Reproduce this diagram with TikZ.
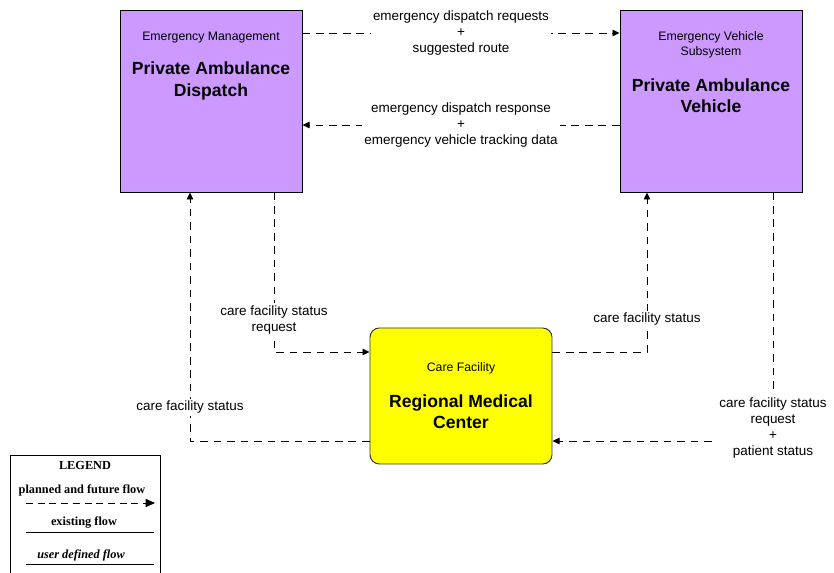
\documentclass[tikz,border=0pt]{standalone}
\usepackage{fontspec}
\setmainfont{Liberation Sans}
\newfontfamily\legendfont{Liberation Serif}
\usetikzlibrary{positioning, arrows.meta}
\definecolor{subsyspurple}{HTML}{CC99FF}
\definecolor{facilityyellow}{HTML}{FFFF00}

\tikzset{
  sysbox/.style={draw=black, line width=0.8pt, fill=subsyspurple,
    minimum width=5.46cm, minimum height=5.46cm, inner sep=0pt},
  facbox/.style={draw=black!80, line width=0.8pt, fill=facilityyellow,
    rounded corners=8pt, minimum width=5.46cm, minimum height=4.08cm, inner sep=0pt},
  classtxt/.style={font=\fontsize{10.5}{12.5}\selectfont, align=center},
  nametxt/.style={font=\fontsize{15}{18}\selectfont\bfseries, align=center},
  flow/.style={line width=0.8pt, dash pattern=on 6.5pt off 5pt,
    -{Triangle[length=6pt,width=5.5pt]}},
  lbl/.style={font=\fontsize{11.5}{13.8}\selectfont, align=center, fill=white,
    inner sep=2pt},
  legtxt/.style={font=\legendfont\fontsize{10.5}{12}\selectfont\bfseries}
}

\begin{document}
\begin{tikzpicture}[x=0.03cm, y=-0.03cm]
  \useasboundingbox (0,0) rectangle (834,573);

  % subsystems
  \node[sysbox] (dispatch) at (211,101) {};
  \node[sysbox] (vehicle) at (711,101) {};
  \node[facbox] (facility) at (461,396) {};

  \node[classtxt] (dispatchclass) at (211,38) {Emergency Management};
  \node[nametxt] (dispatchname) at (211,81) {Private Ambulance\\Dispatch};
  \node[classtxt] (vehicleclass) at (711,45) {Emergency Vehicle\\Subsystem};
  \node[nametxt] (vehiclename) at (711,96) {Private Ambulance\\Vehicle};
  \node[classtxt] (facilityclass) at (461,368) {Care Facility};
  \node[nametxt] (facilityname) at (461,412) {Regional Medical\\Center};

  % flows
  \draw[flow] (dispatch.east |- 0,33) -- (vehicle.west |- 0,33)
    node[midway, lbl] {emergency dispatch requests\\+\\suggested route};
  \draw[flow] (vehicle.west |- 0,125) -- (dispatch.east |- 0,125)
    node[midway, lbl] {emergency dispatch response\\+\\emergency vehicle tracking data};
  \draw[flow] (dispatch.south -| 274,0) |- (facility.west |- 0,352)
    node[pos=0.4, lbl] {care facility status\\request};
  \draw[flow] (facility.west |- 0,441) -| (dispatch.south -| 190,0)
    node[pos=0.568, lbl] {care facility status};
  \draw[flow] (facility.east |- 0,352) -| (vehicle.south -| 647,0)
    node[pos=0.603, lbl] {care facility status};
  \draw[flow] (vehicle.south -| 773,0) |- (facility.east |- 0,441)
    node[pos=0.474, lbl] {care facility status\\request\\+\\patient status};

  % legend
  \draw[line width=0.8pt] (10,590) |- (160,455) -- (160,590);
  \node[legtxt] (legendtitle) at (85,465) {LEGEND};
  \node[legtxt] (plannedtxt) at (82,490) {planned and future flow};
  \coordinate (plannedstart) at (26,503);
  \coordinate (plannedend) at (155,503);
  \draw[line width=0.8pt, dash pattern=on 6pt off 4pt,
    -{Triangle[length=8pt,width=7pt]}] (plannedstart) -- (plannedend);
  \node[legtxt] (existingtxt) at (84,523) {existing flow};
  \coordinate (existingstart) at (26,532);
  \coordinate (existingend) at (154,532);
  \draw[line width=0.8pt] (existingstart) -- (existingend);
  \node[legtxt, font=\legendfont\fontsize{10.5}{12}\selectfont\bfseries\itshape] (usertxt) at (81,555) {user defined flow};
  \coordinate (userstart) at (26,564);
  \coordinate (userend) at (154,564);
  \draw[line width=0.8pt] (userstart) -- (userend);
\end{tikzpicture}
\end{document}
